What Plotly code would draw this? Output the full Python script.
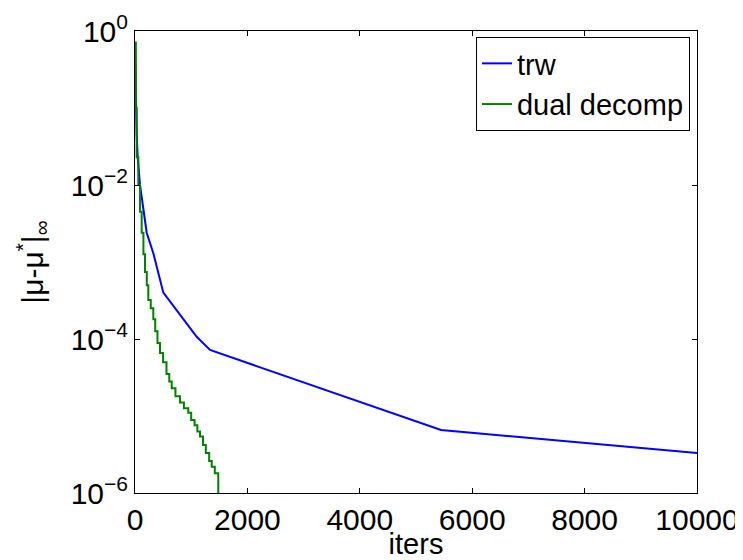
import plotly.graph_objects as go

# trw convergence
trw_iters = [0, 10, 30, 48, 89, 208, 326, 504, 860, 1098, 1335, 5445, 10000]
trw_err = [0.6, 0.15, 0.045, 0.023, 0.01, 2.4e-3, 1.3e-3, 4.0e-4, 1.8e-4,
           1.07e-4, 7.2e-5, 6.6e-6, 3.3e-6]

# dual decomposition convergence (staircase-like)
dd_iters = [0, 15, 30, 59, 90, 119, 150, 178, 210, 237, 280, 326, 360, 400,
            445, 500, 560, 610, 653, 720, 800, 870, 948, 1000, 1060, 1110,
            1157, 1210, 1260, 1320, 1365, 1420, 1482, 1482]
dd_err = [0.71, 0.1, 0.023, 0.01, 4.5e-3, 2.4e-3, 1.26e-3, 7.4e-4, 5.0e-4,
          3.2e-4, 2.5e-4, 1.8e-4, 1.26e-4, 8.9e-5, 6.6e-5, 5.0e-5, 3.5e-5,
          2.8e-5, 2.3e-5, 1.8e-5, 1.5e-5, 1.26e-5, 1.1e-5, 8.9e-6, 7.6e-6,
          6.3e-6, 5.4e-6, 4.2e-6, 3.3e-6, 2.6e-6, 2.2e-6, 1.8e-6, 1.5e-6, 5e-7]

x_ticks = [0, 2000, 4000, 6000, 8000, 10000]
y_ticks = [1, 1e-2, 1e-4, 1e-6]
y_ticktext = ["10<sup>0</sup>", "10<sup>−2</sup>", "10<sup>−4</sup>", "10<sup>−6</sup>"]

FONT = "Liberation Sans, Arial, sans-serif"

fig = go.Figure()
fig.add_trace(go.Scatter(x=trw_iters, y=trw_err, mode="lines", name="trw",
                         line=dict(color="#0000ff", width=2)))
fig.add_trace(go.Scatter(x=dd_iters, y=dd_err, mode="lines", name="dual decomp",
                         line=dict(color="#008000", width=2, shape="hv")))

axis_common = dict(
    showline=True, linecolor="black", linewidth=1, mirror="ticks",
    ticks="inside", ticklen=5, tickcolor="black", showgrid=False,
    zeroline=False, tickfont=dict(size=30, color="black"), automargin=False,
)

# page body has an 8px margin, so the figure is 8px smaller than the window
fig.update_layout(
    width=735, height=552,
    paper_bgcolor="white", plot_bgcolor="white",
    font=dict(family=FONT, color="black"),
    margin=dict(l=127, r=46, t=23, b=67),
    xaxis=dict(range=[0, 10000], tickvals=x_ticks,
               ticktext=[str(v) for v in x_ticks],
               title=dict(text="iters", font=dict(size=29), standoff=0),
               **axis_common),
    yaxis=dict(type="log", range=[-6, 0], tickvals=y_ticks,
               ticktext=y_ticktext,
               title=dict(text="|μ-μ<sup>*</sup>|<sub>∞</sub>",
                          font=dict(size=30), standoff=18),
               **axis_common),
    legend=dict(x=0.9875, y=0.987, xanchor="right", yanchor="top",
                bordercolor="black", borderwidth=1, bgcolor="white",
                font=dict(size=29), tracegroupgap=0),
)

fig.write_html("out.html")
